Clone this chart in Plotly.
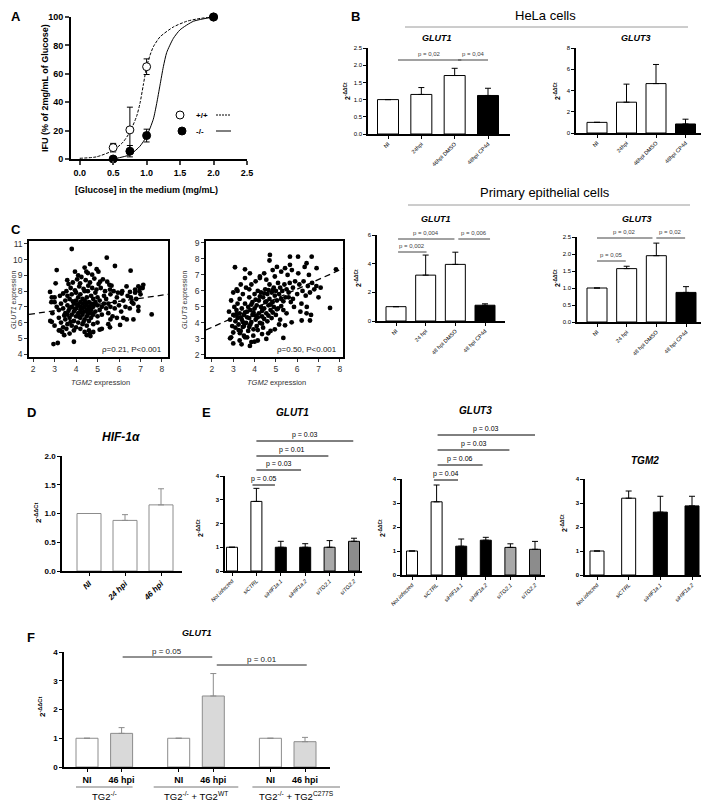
import plotly.graph_objects as go

W, H = 709, 804
FONT = "Liberation Sans, Arial, sans-serif"
OFF = 8  # default page body margin of the html page

# ---------------- DATA ----------------
# Panel A
a_x = [0.5, 0.75, 1.0, 2.0]
a_wt = [8, 20.5, 65, 100]
a_wt_err = [3, 16, 5.5, 0]
a_ko = [0, 5.5, 16.5, 100]
a_ko_err = [0, 4, 4.5, 0]
a_fit_wt_x = [0, 0.25, 0.5, 0.65, 0.75, 0.85, 0.9, 0.95, 1.0, 1.05, 1.1, 1.2, 1.4, 1.6, 1.8, 2.0]
a_fit_wt_y = [0.5, 1.5, 6, 12, 19, 30, 39, 52, 65, 73, 79, 86, 93, 97, 99, 100]
a_fit_ko_x = [0.5, 0.75, 0.9, 1.0, 1.1, 1.15, 1.2, 1.25, 1.3, 1.4, 1.5, 1.7, 2.0]
a_fit_ko_y = [0, 3, 9, 16, 28, 39, 52, 65, 75, 85, 91, 97, 100]

# Panel B
hela_cats = ["NI", "24hpi", "46hpi DMSO", "48hpi CP4d"]
hela_glut1 = [1.0, 1.15, 1.70, 1.12]
hela_glut1_err = [0, 0.20, 0.21, 0.21]
hela_glut3 = [1.0, 2.9, 4.65, 0.85]
hela_glut3_err = [0, 1.7, 1.8, 0.45]
prim_cats = ["NI", "24 hpi", "48 hpi DMSO", "48 hpi CP4d"]
prim_glut1 = [1.0, 3.2, 3.95, 1.1]
prim_glut1_err = [0, 1.4, 0.85, 0.1]
prim_glut3 = [1.0, 1.57, 1.95, 0.87]
prim_glut3_err = [0, 0.07, 0.37, 0.17]

# Panel C  (TGM2 expression, GLUT expression)
c_glut1_pts = [
    (3.8, 10.68), (5.43, 10.13), (3.1, 9.34), (4.65, 9.72), (5.81, 9.6), (6.54, 9.3), (3.95, 9.24),
    (4.96, 9.4), (5.04, 9.24), (4.48, 9.24), (3.05, 8.5), (3.59, 8.7), (4.19, 8.5), (5.12, 8.6),
    (4.57, 8.35), (5.58, 8.1), (6.9, 8.3), (6.75, 8.1), (7.13, 8.4), (6.98, 8.2), (6.51, 7.95),
    (6.12, 7.85), (2.79, 7.95), (2.87, 7.6), (7.52, 6.52), (2.95, 4.63), (3.15, 4.7), (3.9, 4.78),
    (4.67, 5.14), (4.64, 5.3), (3.7, 5.3), (3.25, 5.5), (2.87, 6.05), (5.1, 5.55), (5.58, 5.7),
    (6.05, 5.85), (6.36, 6.2), (6.67, 6.2), (6.9, 6.75), (6.67, 7.2),
    (3.3, 7.2), (3.4, 6.9), (3.5, 7.4), (3.5, 6.6), (3.6, 7.1), (3.6, 7.7), (3.7, 6.3), (3.7, 6.9),
    (3.7, 7.5), (3.8, 7.0), (3.8, 6.5), (3.8, 7.8), (3.9, 7.2), (3.9, 6.7), (3.9, 6.1), (4.0, 7.4),
    (4.0, 6.9), (4.0, 7.9), (4.0, 6.4), (4.1, 7.1), (4.1, 6.6), (4.1, 7.6), (4.1, 6.0), (4.2, 7.3),
    (4.2, 6.8), (4.2, 7.0), (4.2, 6.3), (4.2, 7.8), (4.3, 7.2), (4.3, 6.5), (4.3, 6.9), (4.3, 7.5),
    (4.3, 5.9), (4.4, 7.0), (4.4, 6.7), (4.4, 7.4), (4.4, 6.2), (4.4, 8.0), (4.5, 7.1), (4.5, 6.8),
    (4.5, 6.4), (4.5, 7.6), (4.5, 5.8), (4.6, 7.3), (4.6, 6.6), (4.6, 7.0), (4.6, 6.1), (4.7, 7.2),
    (4.7, 6.8), (4.7, 7.7), (4.7, 6.3), (4.8, 7.0), (4.8, 6.5), (4.8, 7.5), (4.8, 5.9), (4.9, 7.3),
    (4.9, 6.7), (4.9, 7.9), (5.0, 7.1), (5.0, 6.4), (5.0, 7.6), (5.0, 6.0), (5.1, 7.4), (5.1, 6.8),
    (5.2, 7.0), (5.2, 6.5), (5.3, 7.7), (5.3, 7.2), (5.4, 6.9), (5.4, 7.5), (5.5, 7.2), (5.5, 6.6),
    (5.6, 7.8), (5.6, 7.0), (5.7, 6.4), (5.8, 7.3), (5.8, 6.9), (5.9, 7.6), (6.0, 7.1), (6.1, 6.7),
    (6.2, 7.4), (6.3, 7.0), (6.4, 7.7), (6.5, 6.9), (6.6, 7.3), (6.8, 7.5), (6.9, 7.0), (7.0, 7.8),
    (3.2, 6.8), (3.1, 7.0), (3.0, 7.3), (2.9, 6.6), (3.2, 6.3), (3.3, 6.0), (3.4, 5.7), (3.5, 6.2),
    (3.6, 5.9), (3.6, 6.5), (3.8, 5.8), (3.9, 5.5), (4.0, 5.7), (4.2, 5.6), (4.4, 5.4), (4.5, 5.2),
    (4.6, 5.5), (4.8, 5.4), (5.2, 5.6), (5.5, 5.9), (5.6, 6.2), (5.9, 6.3), (6.2, 6.3), (3.35, 5.4),
    (3.45, 5.2), (3.55, 5.6), (2.8, 6.1), (3.0, 5.8), (3.2, 5.5), (2.85, 7.3), (3.0, 7.6), (3.25, 7.7),
    (3.4, 7.85), (3.55, 8.0), (3.75, 8.2), (3.95, 8.05), (4.15, 8.3), (4.35, 8.15), (4.55, 8.0),
    (4.75, 8.2), (4.95, 8.1), (5.15, 8.2), (5.35, 8.0), (5.55, 8.4), (5.75, 8.0), (5.95, 7.9),
    (6.15, 8.0), (6.35, 8.3), (6.55, 7.6), (6.75, 7.9), (6.95, 8.0), (7.1, 8.2), (3.65, 8.45),
    (3.85, 8.55), (4.05, 8.75), (4.25, 8.9), (4.45, 8.7), (4.65, 8.55), (4.85, 8.8), (5.05, 8.45),
    (5.25, 8.75), (5.45, 8.6), (5.65, 8.35), (4.1, 9.0), (4.4, 9.5), (4.75, 9.05), (4.55, 9.15),
    (3.65, 6.75), (3.85, 7.35), (4.05, 7.15), (4.25, 6.65), (4.45, 7.25), (4.65, 6.85), (4.85, 7.15),
    (3.75, 6.05), (4.15, 6.35), (4.35, 6.05), (4.55, 6.55), (3.95, 6.85), (4.75, 6.55), (3.45, 6.45),
]
c_glut1_fit_x = [1.81, 8.28]
c_glut1_fit_y = [6.52, 7.8]

c_glut3_pts = [
    (4.72, 8.25), (4.7, 7.9), (5.66, 8.14), (6.04, 8.14), (6.68, 8.14), (5.43, 7.42), (5.66, 7.63),
    (6.44, 7.73), (6.91, 7.42), (7.82, 7.35), (3.08, 7.48), (3.55, 7.35), (3.78, 7.1), (4.25, 6.8),
    (3.16, 6.1), (7.54, 4.94), (2.85, 3.04), (3.0, 2.72), (3.39, 2.66), (3.78, 2.56), (4.0, 2.83),
    (3.55, 3.1), (4.64, 3.35), (5.35, 3.06), (3.94, 3.2), (3.31, 3.36), (5.43, 3.85), (5.74, 4.04),
    (6.21, 4.15), (6.44, 4.6), (6.6, 4.15),
    (2.8, 4.7), (2.85, 4.2), (2.9, 5.4), (2.95, 3.8), (3.0, 4.5), (3.0, 3.4), (3.05, 5.0), (3.1, 4.1),
    (3.1, 3.7), (3.15, 4.8), (3.2, 4.3), (3.2, 6.0), (3.25, 3.9), (3.3, 4.6), (3.3, 5.5), (3.35, 3.5),
    (3.4, 4.9), (3.4, 4.2), (3.45, 5.8), (3.5, 3.8), (3.5, 4.5), (3.55, 5.2), (3.6, 4.0), (3.6, 6.2),
    (3.65, 4.7), (3.7, 3.5), (3.7, 5.0), (3.75, 4.3), (3.75, 5.6), (3.8, 3.9), (3.8, 4.8), (3.85, 6.4),
    (3.9, 4.5), (3.9, 5.3), (3.95, 3.6), (4.0, 4.9), (4.0, 5.8), (4.05, 4.2), (4.1, 5.1), (4.1, 3.8),
    (4.15, 6.0), (4.2, 4.6), (4.2, 5.4), (4.25, 4.0), (4.3, 5.0), (4.3, 5.9), (4.35, 4.4), (4.4, 5.6),
    (4.4, 3.7), (4.45, 4.9), (4.5, 5.3), (4.5, 6.1), (4.55, 4.6), (4.6, 5.8), (4.6, 4.1), (4.65, 5.1),
    (4.7, 5.5), (4.7, 6.4), (4.75, 4.8), (4.8, 5.9), (4.8, 4.3), (4.85, 5.3), (4.9, 6.2), (4.9, 5.0),
    (4.95, 5.7), (5.0, 4.5), (5.0, 6.0), (5.05, 5.4), (5.1, 6.5), (5.1, 4.9), (5.15, 5.8), (5.2, 6.2),
    (5.2, 4.2), (5.25, 5.5), (5.3, 6.0), (5.35, 4.8), (5.4, 6.4), (5.45, 5.6), (5.5, 6.1), (5.5, 4.6),
    (5.6, 5.9), (5.65, 6.5), (5.7, 5.3), (5.8, 6.2), (5.85, 5.0), (5.9, 6.6), (6.0, 5.8), (6.1, 6.4),
    (6.2, 5.2), (6.25, 6.0), (6.3, 6.6), (6.4, 5.7), (6.5, 6.3), (6.6, 5.9), (6.7, 6.5), (6.8, 6.1),
    (6.9, 6.3), (7.0, 5.6), (7.1, 6.2), (4.05, 6.6), (4.25, 6.9), (4.45, 7.1), (4.55, 6.7), (4.85, 7.3),
    (4.95, 6.9), (5.05, 7.5), (5.25, 7.2), (5.55, 7.0), (5.75, 7.3), (6.05, 7.1), (6.35, 7.5),
    (6.55, 7.0), (3.35, 6.4), (3.55, 6.8), (3.75, 6.1), (3.2, 5.2), (3.0, 5.9), (2.9, 3.1), (3.3, 2.9),
    (3.5, 3.2), (3.65, 3.1), (3.85, 2.8), (4.15, 2.9), (4.35, 3.3), (4.55, 3.0), (4.75, 3.5),
    (4.95, 3.6), (5.15, 3.9), (3.45, 4.05), (3.65, 4.35), (3.85, 4.05), (3.95, 4.65), (4.15, 4.35),
    (4.35, 4.75), (4.65, 4.45), (4.85, 4.65), (5.05, 4.85), (5.25, 5.05), (4.05, 5.45), (4.25, 5.65),
    (4.45, 5.85), (4.65, 6.05), (4.85, 6.05), (4.55, 5.35), (4.75, 5.15), (3.15, 4.55), (3.35, 4.35),
    (3.55, 4.65), (3.25, 3.55), (3.45, 3.75), (3.75, 3.75), (3.85, 5.15), (4.05, 4.45), (4.15, 3.55),
    (4.35, 3.95), (4.45, 4.25), (5.35, 5.35), (5.6, 5.6), (5.8, 5.5), (6.15, 4.7), (6.45, 5.0),
    (6.65, 4.5),
]
c_glut3_fit_x = [1.72, 8.15]
c_glut3_fit_y = [3.56, 7.4]

# Panel D
d_cats = ["NI", "24 hpi", "46 hpi"]
d_hif = [1.0, 0.88, 1.15]
d_hif_err = [0, 0.10, 0.28]

# Panel E
e_cats = ["Not infected", "siCTRL", "siHIF1a.1", "siHIF1a.2", "siTG2.1", "siTG2.2"]
e_glut1 = [1.0, 2.93, 1.0, 1.0, 1.0, 1.25]
e_glut1_err = [0, 0.55, 0.25, 0.15, 0.28, 0.13]
e_glut3 = [1.0, 3.05, 1.2, 1.45, 1.15, 1.07]
e_glut3_err = [0, 0.70, 0.30, 0.12, 0.15, 0.33]
e_tgm2_cats = ["Not infected", "siCTRL", "siHIF1a.1", "siHIF1a.2"]
e_tgm2 = [1.0, 3.2, 2.62, 2.88]
e_tgm2_err = [0, 0.30, 0.66, 0.40]

# Panel F
f_groups = ["TG2<sup>-/-</sup>", "TG2<sup>-/-</sup> + TG2<sup>WT</sup>", "TG2<sup>-/-</sup> + TG2<sup>C277S</sup>"]
f_conds = ["NI", "46 hpi"]
f_glut1 = [1.0, 1.17, 1.0, 2.47, 1.0, 0.88]
f_glut1_err = [0, 0.20, 0, 0.78, 0, 0.15]

# ---------------- HELPERS ----------------
fig = go.Figure()
layout = dict(width=W, height=H, margin=dict(l=0, r=0, t=0, b=0), paper_bgcolor="white",
              plot_bgcolor="white", showlegend=False, template="none",
              font=dict(family=FONT, color="black"))
annotations = []
shapes = []


def px(x):
    return (x - OFF) / W


def py(y):
    return 1 - (y - OFF) / H


def names(n):
    s = "" if n == 1 else str(n)
    return "x" + s, "y" + s, "xaxis" + s, "yaxis" + s


def text(x, y, t, size, bold=False, italic=False, angle=0, xanchor="center", color="black"):
    if italic:
        t = f"<i>{t}</i>"
    if bold:
        t = f"<b>{t}</b>"
    annotations.append(dict(x=px(x), y=py(y), xref="paper", yref="paper", text=t, showarrow=False,
                            font=dict(size=size, color=color, family=FONT), textangle=angle,
                            xanchor=xanchor, yanchor="middle"))


def hline(x0, x1, y, color="black", width=1, dash=None):
    shapes.append(dict(type="line", xref="paper", yref="paper", x0=px(x0), x1=px(x1), y0=py(y), y1=py(y),
                       line=dict(color=color, width=width, dash=dash)))


def bar_panel(n, labels, vals, errs, fills, box, c0, c1, bar_w, yrange, ytickvals, yticktext,
              xfont, yfont, angle=-45, edge="black", err_color="black", axis_w=1.5, pos=None,
              xbold=False, xitalic=False):
    xa, ya, xk, yk = names(n)
    m = len(vals)
    if pos is None:
        pos = list(range(m))
    unit = (c1 - c0) / (pos[-1] - pos[0])
    x0, x1, yt, yb = box
    lo = pos[0] - (c0 - x0) / unit
    hi = pos[-1] + (x1 - c1) / unit
    fig.add_trace(go.Bar(x=pos, y=vals, width=bar_w / unit,
                         marker=dict(color=fills, line=dict(color=edge, width=1)),
                         error_y=dict(type="data", symmetric=False, array=errs, arrayminus=[0] * m,
                                      color=err_color, thickness=1, width=3),
                         xaxis=xa, yaxis=ya, cliponaxis=False))
    tt = []
    for c in labels:
        s = c
        if xitalic:
            s = f"<i>{s}</i>"
        if xbold:
            s = f"<b>{s}</b>"
        tt.append(s)
    layout[xk] = dict(domain=[px(x0), px(x1)], range=[lo, hi], anchor=ya, showline=True,
                      linecolor="black", linewidth=axis_w, ticks="outside", ticklen=3, tickwidth=1,
                      tickcolor="black", tickmode="array", tickvals=pos, ticktext=tt, tickangle=angle,
                      tickfont=dict(size=xfont, family=FONT, color="black"), showgrid=False,
                      zeroline=False, automargin=False, fixedrange=True)
    layout[yk] = dict(domain=[py(yb), py(yt)], range=yrange, anchor=xa, showline=True,
                      linecolor="black", linewidth=axis_w, ticks="outside", ticklen=3, tickwidth=1,
                      tickcolor="black", tickmode="array", tickvals=ytickvals, ticktext=yticktext,
                      tickfont=dict(size=yfont, family=FONT, color="black"), showgrid=False,
                      zeroline=False, automargin=False, fixedrange=True)

    def cx(i):
        return c0 + (i - pos[0]) * unit
    return cx


def pval(cx, i0, i1, y, label, size, color="black"):
    a, b = cx(i0), cx(i1)
    hline(a, b, y, color=color, width=1)
    text((a + b) / 2, y - 6, label, size, color=color)


def scatter_panel(n, pts, fx, fy, box, xr, yr, xt, yt):
    xa, ya, xk, yk = names(n)
    xs = [p[0] for p in pts]
    ys = [p[1] for p in pts]
    fig.add_trace(go.Scatter(x=xs, y=ys, mode="markers", marker=dict(color="black", size=4.8),
                             xaxis=xa, yaxis=ya))
    fig.add_trace(go.Scatter(x=fx, y=fy, mode="lines", line=dict(color="black", dash="6px,4px", width=1.3),
                             xaxis=xa, yaxis=ya))
    x0, x1, ytp, ybt = box
    common = dict(showline=True, mirror=True, linecolor="black", linewidth=1.5, ticks="outside",
                  ticklen=3, tickcolor="#333", tickfont=dict(size=8.5, color="#333", family=FONT),
                  showgrid=False, zeroline=False, automargin=False, fixedrange=True)
    layout[xk] = dict(domain=[px(x0), px(x1)], range=xr, anchor=ya, tickvals=xt, **common)
    layout[yk] = dict(domain=[py(ybt), py(ytp)], range=yr, anchor=xa, tickvals=yt, **common)


YT = "2<sup>-ΔΔCt</sup>"

# ---------------- PANEL A ----------------
fig.add_trace(go.Scatter(x=a_fit_wt_x, y=a_fit_wt_y, mode="lines",
                         line=dict(color="black", width=1, dash="3px,1.5px", shape="spline", smoothing=0.6),
                         xaxis="x", yaxis="y"))
fig.add_trace(go.Scatter(x=a_fit_ko_x, y=a_fit_ko_y, mode="lines",
                         line=dict(color="black", width=1, shape="spline", smoothing=0.6),
                         xaxis="x", yaxis="y"))
fig.add_trace(go.Scatter(x=a_x, y=a_wt, mode="markers",
                         marker=dict(color="white", size=8, line=dict(color="black", width=1)),
                         error_y=dict(type="data", array=a_wt_err, color="black", thickness=1, width=3),
                         xaxis="x", yaxis="y", cliponaxis=False))
fig.add_trace(go.Scatter(x=a_x, y=a_ko, mode="markers",
                         marker=dict(color="black", size=8, line=dict(color="black", width=1)),
                         error_y=dict(type="data", array=a_ko_err, color="black", thickness=1, width=3),
                         xaxis="x", yaxis="y", cliponaxis=False))
a_xt = [0, 0.5, 1.0, 1.5, 2.0, 2.5]
a_yt = [0, 20, 40, 60, 80, 100]
layout["xaxis"] = dict(domain=[px(71), px(247)], range=[-0.13, 2.5], anchor="y", showline=True,
                       linecolor="black", linewidth=2, ticks="outside", ticklen=4, tickwidth=2,
                       tickvals=a_xt, ticktext=[f"<b>{v:.1f}</b>" for v in a_xt],
                       tickfont=dict(size=9, family=FONT, color="black"), showgrid=False, zeroline=False,
                       automargin=False, fixedrange=True)
layout["yaxis"] = dict(domain=[py(159), py(17)], range=[0, 100], anchor="x", showline=True,
                       linecolor="black", linewidth=2, ticks="outside", ticklen=4, tickwidth=2,
                       tickvals=a_yt, ticktext=[f"<b>{v}</b>" for v in a_yt],
                       tickfont=dict(size=9, family=FONT, color="black"), showgrid=False, zeroline=False,
                       automargin=False, fixedrange=True)
text(45, 88, "IFU (% of 2mg/mL of Glucose)", 9, bold=True, angle=-90)
text(146, 190, "[Glucose] in the medium (mg/mL)", 9, bold=True)
# legend
shapes.append(dict(type="circle", xref="paper", yref="paper", x0=px(176), x1=px(184), y0=py(119), y1=py(111),
                   line=dict(color="black", width=1), fillcolor="white"))
shapes.append(dict(type="circle", xref="paper", yref="paper", x0=px(178), x1=px(186), y0=py(135), y1=py(127),
                   line=dict(color="black", width=1), fillcolor="black"))
text(194, 115, "+/+", 8, bold=True, xanchor="left")
text(194, 131, "-/-", 8, bold=True, xanchor="left")
hline(216, 231, 115, width=1, dash="2px,1px")
hline(216, 231, 131, width=1)

# ---------------- PANEL B ----------------
b_yt1 = [0, 0.5, 1.0, 1.5, 2.0, 2.5]
cx = bar_panel(2, hela_cats, hela_glut1, hela_glut1_err, ["white", "white", "white", "black"],
               (368, 510, 48, 134), 388, 488, 21, [0, 2.5], b_yt1, [f"{v:.1f}" for v in b_yt1], 5.5, 6)
pval(cx, 0.3, 2.2, 60, "p = 0,02", 6, color="#444")
pval(cx, 2.1, 3.0, 60, "p = 0,04", 6, color="#444")
text(437, 38, "GLUT1", 9, bold=True, italic=True)
text(347, 91, YT, 7, bold=True, angle=-90)

b_yt2 = [0, 2, 4, 6, 8]
cx = bar_panel(3, hela_cats, hela_glut3, hela_glut3_err, ["white", "white", "white", "black"],
               (576, 705, 48, 133), 597, 685.5, 20, [0, 8], b_yt2, [str(v) for v in b_yt2], 5.5, 6)
text(636, 38, "GLUT3", 9, bold=True, italic=True)
text(557, 91, YT, 7, bold=True, angle=-90)

b_yt3 = [0, 2, 4, 6]
cx = bar_panel(4, prim_cats, prim_glut1, prim_glut1_err, ["white", "white", "white", "black"],
               (377, 505, 235, 321), 396, 485, 20, [0, 6], b_yt3, [str(v) for v in b_yt3], 5.5, 6)
pval(cx, 0.07, 1.97, 239, "p = 0,004", 6, color="#444")
pval(cx, 2.1, 3.17, 239, "p = 0,006", 6, color="#444")
pval(cx, 0.07, 1.03, 252, "p = 0,002", 6, color="#444")
text(436, 219, "GLUT1", 9, bold=True, italic=True)
text(358, 278, YT, 7, bold=True, angle=-90)

cx = bar_panel(5, prim_cats, prim_glut3, prim_glut3_err, ["white", "white", "white", "black"],
               (577, 705, 237, 322), 597, 686, 20, [0, 2.5], b_yt1, [f"{v:.1f}" for v in b_yt1], 5.5, 6)
pval(cx, 0.0, 1.87, 238, "p = 0,02", 6, color="#444")
pval(cx, 2.0, 2.97, 238, "p = 0,02", 6, color="#444")
pval(cx, 0.0, 0.97, 261, "p = 0,05", 6, color="#444")
text(637, 219, "GLUT3", 9, bold=True, italic=True)
text(557, 278, YT, 7, bold=True, angle=-90)

text(545, 16, "HeLa cells", 13)
hline(405, 688, 27, color="#9a9a9a", width=1)
text(545, 193, "Primary epithelial cells", 13)
hline(408, 690, 205, color="#9a9a9a", width=1)

# ---------------- PANEL C ----------------
scatter_panel(6, c_glut1_pts, c_glut1_fit_x, c_glut1_fit_y, (29, 168, 241, 357),
              [1.81, 8.28], [3.81, 11.19], list(range(2, 9)), list(range(4, 12)))
scatter_panel(7, c_glut3_pts, c_glut3_fit_x, c_glut3_fit_y, (206, 343, 241, 357),
              [1.72, 8.15], [1.87, 9.12], list(range(2, 9)), list(range(2, 10)))
text(8, 300, "<i>GLUT1</i> expression", 7, angle=-90, color="#333", xanchor="left")
text(185, 300, "<i>GLUT3</i> expression", 7, angle=-90, color="#333")
text(100, 382, "<i>TGM2</i> expression", 7.5, color="#333")
text(276, 382, "<i>TGM2</i> expression", 7.5, color="#333")
text(132, 349, "ρ=0.21, P<0.001", 8, color="#222")
text(307, 349, "ρ=0.50, P<0.001", 8, color="#222")

# ---------------- PANEL D ----------------
d_yt = [0, 0.5, 1.0, 1.5, 2.0]
bar_panel(8, d_cats, d_hif, d_hif_err, ["white"] * 3, (62, 182, 456, 571), 89, 161, 24, [0, 2.0],
          d_yt, [f"<b>{v:.1f}</b>" for v in d_yt], 8, 8, edge="#8c8c8c", err_color="#8c8c8c",
          axis_w=1.5, xbold=True, xitalic=True)
text(121, 437, "HIF-1<i>α</i>", 12, bold=True, italic=True)
text(38, 513, YT, 8, bold=True, angle=-90)

# ---------------- PANEL E ----------------
e_yt = [0, 1, 2, 3, 4]
e_fill = ["white", "white", "black", "black", "#a8a8a8", "#8c8c8c"]
cx = bar_panel(9, e_cats, e_glut1, e_glut1_err, e_fill, (225, 362, 476, 571), 232, 354, 11, [0, 4],
               e_yt, [f"<b>{v}</b>" for v in e_yt], 5.5, 6, xitalic=True)
pval(cx, 1.0, 4.97, 441, "p = 0.03", 7)
pval(cx, 1.0, 3.95, 456, "p = 0.01", 7)
pval(cx, 1.0, 2.83, 470, "p = 0.03", 7)
pval(cx, 0.84, 1.76, 485, "p = 0.05", 7)
text(292, 412, "GLUT1", 10, bold=True, italic=True)
text(200, 528, YT, 7, bold=True, angle=-90)

cx = bar_panel(10, e_cats, e_glut3, e_glut3_err, e_fill, (402, 545, 479, 575), 412, 535, 11, [0, 4],
               e_yt, [f"<b>{v}</b>" for v in e_yt], 5.5, 6, xitalic=True)
pval(cx, 1.04, 5.0, 435, "p = 0.03", 7)
pval(cx, 1.04, 3.96, 450, "p = 0.03", 7)
pval(cx, 1.04, 2.87, 465, "p = 0.06", 7)
pval(cx, 0.89, 1.87, 480, "p = 0.04", 7)
text(475, 410, "GLUT3", 10, bold=True, italic=True)
text(382, 528, YT, 7, bold=True, angle=-90)

cx = bar_panel(11, e_tgm2_cats, e_tgm2, e_tgm2_err, ["white", "white", "black", "black"],
               (585, 705, 479, 575), 597, 692, 14, [0, 4], e_yt, [f"<b>{v}</b>" for v in e_yt],
               5.5, 6, xitalic=True)
text(645, 460, "TGM2", 10, bold=True, italic=True)
text(564, 523, YT, 7, bold=True, angle=-90)

# ---------------- PANEL F ----------------
f_pos = [g * 2.65 + j for g in range(len(f_groups)) for j in range(len(f_conds))]
f_labels = [c for g in f_groups for c in f_conds]
f_fill = ["white" if j == 0 else "#d9d9d9" for g in f_groups for j in range(len(f_conds))]
cx = bar_panel(12, f_labels, f_glut1, f_glut1_err, f_fill, (64, 330, 652, 767), 87, 305, 22, [0, 4],
               e_yt, [f"<b>{v}</b>" for v in e_yt], 9, 8, angle=0, edge="#8c8c8c", err_color="#8c8c8c",
               pos=f_pos, xbold=True)
pval(cx, f_pos[1] + 0.03, f_pos[3] - 0.03, 657, "p = 0.05", 8, color="#222")
pval(cx, f_pos[3] + 0.1, f_pos[5] + 0.05, 665, "p = 0.01", 8, color="#222")
for g, lab in enumerate(f_groups):
    a = cx(f_pos[2 * g]) - 11
    b = cx(f_pos[2 * g + 1]) + 11
    if g == 1:
        a, b = a - 14, b + 14
    if g == 2:
        a, b = a - 7, b + 24
    hline(a, b, 787, color="#777", width=1)
    text((a + b) / 2, 796, lab, 9.5)
text(197, 633, "GLUT1", 9, bold=True, italic=True)
text(42, 707, YT, 8, bold=True, angle=-90)

# letters
text(9, 17, "A", 13, bold=True, xanchor="left")
text(355, 17, "B", 13, bold=True)
text(9, 229, "C", 13, bold=True, xanchor="left")
text(31, 413, "D", 13, bold=True)
text(206, 413, "E", 13, bold=True)
text(31, 637, "F", 13, bold=True)

layout["annotations"] = annotations
layout["shapes"] = shapes
fig.update_layout(**layout)
fig.write_html("out.html")
